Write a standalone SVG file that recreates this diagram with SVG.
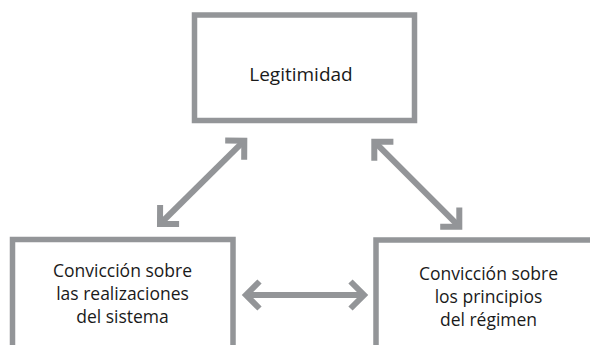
<svg xmlns="http://www.w3.org/2000/svg" width="590" height="345" viewBox="0 0 590 345">
<style>
.box{fill:#ffffff;stroke:#939598;stroke-width:5.5}
.lbl{font-family:"Open Sans","Noto Sans","Liberation Sans",sans-serif;fill:#1a1a1a;text-anchor:middle}
.t1{font-size:19px}
.t2{font-size:17.5px}
.con{stroke:#939598;stroke-width:6;fill:none;marker-start:url(#ah);marker-end:url(#ah)}
</style>
<defs>
<marker id="ah" markerUnits="userSpaceOnUse" viewBox="-20 -20 30 40" refX="0" refY="0" markerWidth="30" markerHeight="40" orient="auto-start-reverse" overflow="visible">
<path d="M-13.5,-13.5 L0,0 L-13.5,13.5" fill="none" stroke="#939598" stroke-width="6" stroke-linejoin="miter"/>
</marker>
</defs>
<rect width="590" height="345" fill="#ffffff"/>
<g id="node-legitimidad">
<rect class="box" x="194.5" y="15" width="220" height="105.5"/>
<text class="lbl t1" x="301" y="80.5">Legitimidad</text>
</g>
<g id="node-realizaciones">
<rect class="box" x="12.5" y="239.5" width="220.5" height="130"/>
<text class="lbl t2" x="122.5" y="277">Convicción sobre</text>
<text class="lbl t2" x="122.5" y="300">las realizaciones</text>
<text class="lbl t2" x="122.5" y="323">del sistema</text>
</g>
<g id="node-principios">
<rect class="box" x="376" y="240" width="240" height="130"/>
<text class="lbl t2" x="488.5" y="280">Convicción sobre</text>
<text class="lbl t2" x="488.5" y="303">los principios</text>
<text class="lbl t2" x="488.5" y="326">del régimen</text>
</g>
<g id="connectors">
<line class="con" x1="160" y1="224" x2="244.3" y2="140.7"/>
<line class="con" x1="374.3" y1="141.7" x2="459.3" y2="226.7"/>
<line class="con" x1="246" y1="295" x2="364" y2="295"/>
</g>
</svg>
